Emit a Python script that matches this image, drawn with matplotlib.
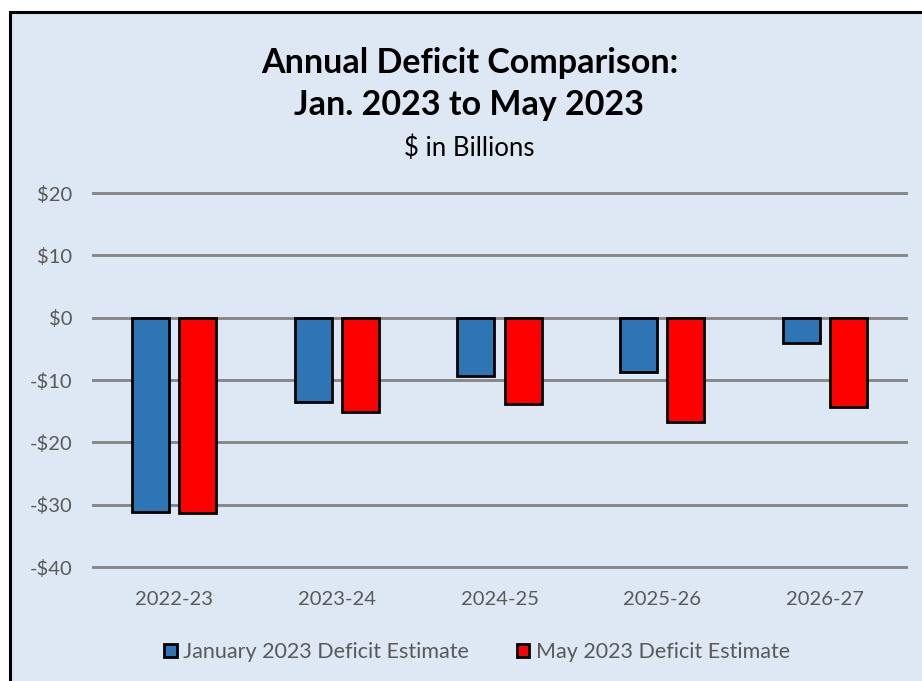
import matplotlib
matplotlib.use("Agg")
import matplotlib.pyplot as plt
from matplotlib.patches import Rectangle, Patch
import numpy as np

categories = ["2022-23", "2023-24", "2024-25", "2025-26", "2026-27"]
jan_2023 = [-31.2, -13.5, -9.4, -8.7, -4.0]
may_2023 = [-31.4, -15.1, -13.9, -16.7, -14.3]
series_names = ["January 2023 Deficit Estimate", "May 2023 Deficit Estimate"]
yticks = [-40, -30, -20, -10, 0, 10, 20]
ytick_labels = ["-$40", "-$30", "-$20", "-$10", "$0", "$10", "$20"]

plt.rcParams['font.family'] = ['Lato', 'DejaVu Sans']

W, H = 922, 681
fig = plt.figure(figsize=(W / 100, H / 100), dpi=100)
fig.patch.set_facecolor("white")

bg = "#DEE8F4"
# chart area background with border
fig.patches.append(Rectangle((10 / W, -0.05), 1.1, 1 - 12 / H + 0.05, transform=fig.transFigure,
                             facecolor=bg, edgecolor="black", linewidth=2.2, zorder=-10))

ax = fig.add_axes([93 / W, 1 - 567 / H, (906 - 93) / W, (567 - 193) / H])
ax.set_facecolor("none")

x = np.arange(len(categories))
bw = 0.228
off = 0.145
ax.bar(x - off, jan_2023, bw, color="#2E75B6", edgecolor="black", linewidth=2, zorder=3,
       label=series_names[0])
ax.bar(x + off, may_2023, bw, color="#FF0000", edgecolor="black", linewidth=2, zorder=3,
       label=series_names[1])

ax.set_xlim(-0.5, len(categories) - 0.5)
ax.set_ylim(-40, 20)
ax.set_yticks(yticks)
ax.set_yticklabels(ytick_labels)
ax.set_xticks(x)
ax.set_xticklabels(categories)
ax.yaxis.grid(True, color="#878787", linewidth=2.1)
for gl in ax.get_ygridlines():
    gl.set_clip_on(False)
ax.set_axisbelow(True)
for s in ax.spines.values():
    s.set_visible(False)
ax.tick_params(axis="both", length=0, labelsize=14.5, labelcolor="#595959")
ax.tick_params(axis="y", pad=15)
ax.tick_params(axis="x", pad=17)

fig.text(470 / W, 1 - 63 / H, "Annual Deficit Comparison:", ha="center", va="center",
         fontsize=24.5, fontweight="bold", color="black")
fig.text(469 / W, 1 - 105 / H, "Jan. 2023 to May 2023", ha="center", va="center",
         fontsize=24.5, fontweight="bold", color="black")
fig.text(469 / W, 1 - 148 / H, "$ in Billions", ha="center", va="center",
         fontsize=18.5, color="black")

handles = [Patch(facecolor="#2E75B6", edgecolor="black", linewidth=2),
           Patch(facecolor="#FF0000", edgecolor="black", linewidth=2)]
leg = fig.legend(handles, series_names, loc="center", bbox_to_anchor=(477 / W, 1 - 652 / H),
                 ncol=2, frameon=False, fontsize=15.5, handlelength=0.6, handleheight=0.6,
                 handletextpad=0.3, columnspacing=2.2)
for t in leg.get_texts():
    t.set_color("#595959")

fig.savefig("out.png", dpi=100, facecolor="white")
